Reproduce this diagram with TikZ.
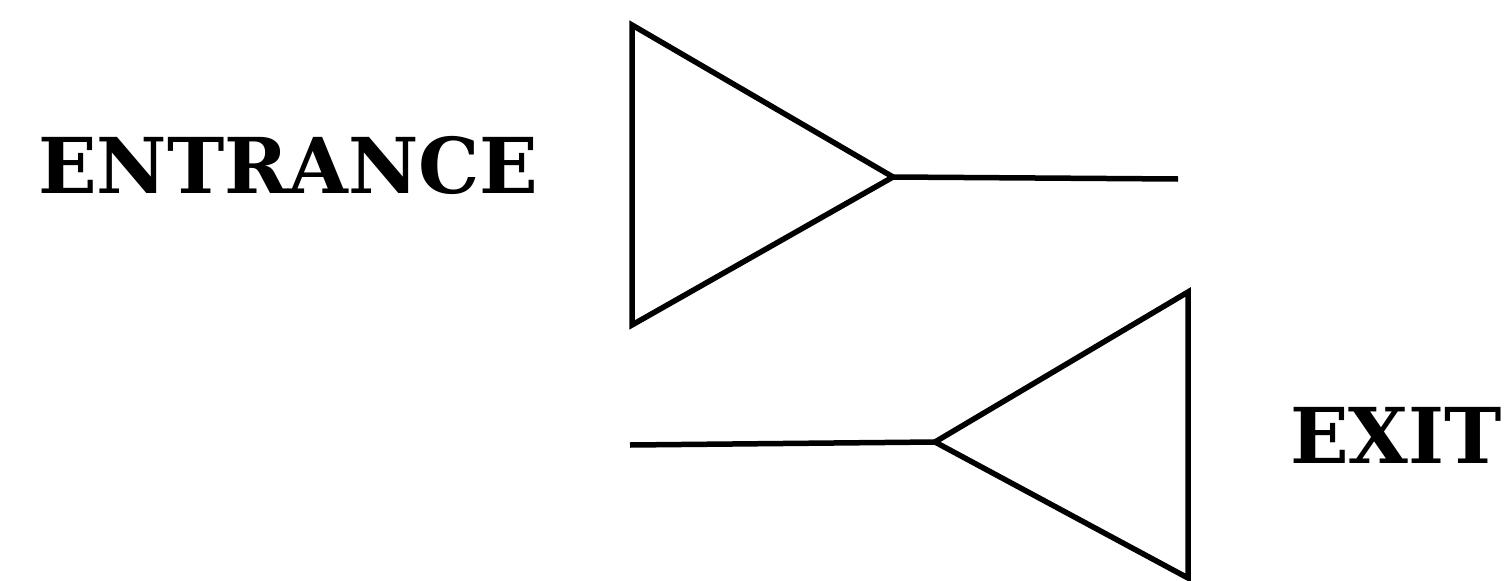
\documentclass[tikz,border=0pt]{standalone}
\usepackage{fontspec}
\setmainfont{DejaVu Serif}
\begin{document}
\begin{tikzpicture}[x=1pt,y=-1pt,
  stroke/.style={line width=5.5pt,line join=miter,line cap=butt,black},
  label/.style={inner sep=0pt,anchor=base west,font=\fontsize{77}{92}\selectfont\bfseries}]
\useasboundingbox (0,0) rectangle (1505,581);
% entrance symbol
\coordinate (ea) at (632,25);
\coordinate (eb) at (632,325);
\coordinate (ec) at (893,177);
\coordinate (ed) at (1178,179);
\draw[stroke] (ea) -- (ec) -- (eb) -- cycle;
\draw[stroke] (ec) -- (ed);
% exit symbol
\coordinate (xa) at (1188,292);
\coordinate (xb) at (1188,578);
\coordinate (xc) at (935,442);
\coordinate (xd) at (630,445);
\draw[stroke] (xa) -- (xc) -- (xb) -- cycle;
\draw[stroke] (xc) -- (xd);
% labels
\node[label] (entrance) at (38,193) {ENTRANCE};
\node[label] (exit) at (1290,463) {EXIT};
\end{tikzpicture}
\end{document}
